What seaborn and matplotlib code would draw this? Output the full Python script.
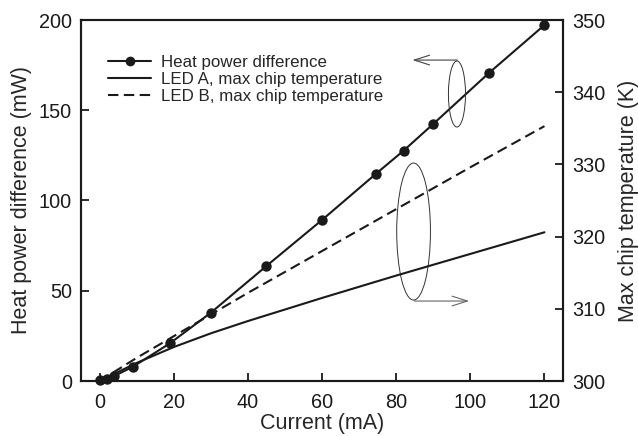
import numpy as np
import pandas as pd
import matplotlib
matplotlib.use("Agg")
import matplotlib.pyplot as plt
import seaborn as sns
from matplotlib.patches import Ellipse
from matplotlib.lines import Line2D

# ---- data ----
current_heat = [0, 2, 4, 9, 19, 30, 45, 60, 74.5, 82, 90, 105, 120]
heat_power = [0.5, 1.3, 2.8, 7.9, 20.9, 37.8, 63.7, 89.2, 114.7, 127.6, 142.4, 170.6, 197.2]

current_temp = [0, 10, 20, 30, 40, 60, 80, 100, 120]
temp_led_a = [300.0, 302.5, 304.7, 306.6, 308.3, 311.5, 314.6, 317.6, 320.6]
temp_led_b = [300.0, 303.2, 306.2, 309.2, 312.2, 318.0, 323.8, 329.6, 335.3]

x_ticks = [0, 20, 40, 60, 80, 100, 120]
y_left_ticks = [0, 50, 100, 150, 200]
y_right_ticks = [300, 310, 320, 330, 340, 350]

labels = ["Heat power difference", "LED A, max chip temperature", "LED B, max chip temperature"]

sns.set_theme(style="ticks")
plt.rcParams["font.family"] = ["Liberation Sans", "DejaVu Sans"]
plt.rcParams["axes.linewidth"] = 1.5
plt.rcParams["xtick.major.width"] = 1.3
plt.rcParams["ytick.major.width"] = 1.3

df_heat = pd.DataFrame({"current": current_heat, "power": heat_power})
df_temp = pd.DataFrame({"current": current_temp, "A": temp_led_a, "B": temp_led_b})

fig = plt.figure(figsize=(6.38, 4.36), dpi=100)
ax = fig.add_axes([81/638, 1-381/436, (563-81)/638, (381-20)/436])
ax2 = ax.twinx()

ink = "#1a1a1a"
dash = (0, (5, 2.6))
sns.lineplot(data=df_heat, x="current", y="power", ax=ax, color=ink, lw=1.5,
             marker="o", markersize=7.5, markeredgewidth=0, clip_on=False, zorder=5)
sns.lineplot(data=df_temp, x="current", y="A", ax=ax2, color=ink, lw=1.5)
sns.lineplot(data=df_temp, x="current", y="B", ax=ax2, color=ink, lw=1.5, linestyle=dash)

ax.set_xlim(-5, 125)
ax.set_ylim(0, 200)
ax2.set_ylim(300, 350)
ax.set_xticks(x_ticks)
ax.set_yticks(y_left_ticks)
ax2.set_yticks(y_right_ticks)

ax.set_xlabel("Current (mA)", fontsize=15.5, labelpad=1.0)
ax.set_ylabel("Heat power difference (mW)", fontsize=15.5, labelpad=5)
ax2.set_ylabel("Max chip temperature (K)", fontsize=15.5, labelpad=9)

for a in (ax, ax2):
    a.tick_params(direction="in", length=6, labelsize=14.3, colors=ink, pad=6.5)
    for s in a.spines.values():
        s.set_color(ink)
        s.set_linewidth(1.5)
ax.tick_params(axis="x", pad=8.5)

# annotations: ellipses with arrows
ax.add_patch(Ellipse((96.4, 159.0), 4.6, 36.6, fill=False, lw=0.7, ec="#333333", zorder=6))
ax.annotate("", xy=(84.4, 177.8), xytext=(96.5, 177.8),
            arrowprops=dict(arrowstyle="->,head_length=1.1,head_width=0.35", lw=0.8,
                            color="#444444", shrinkA=0, shrinkB=0, mutation_scale=10))
ax.add_patch(Ellipse((84.7, 82.8), 9.1, 75.9, fill=False, lw=0.7, ec="#333333", zorder=6))
ax.annotate("", xy=(99.7, 44.3), xytext=(84.9, 44.3),
            arrowprops=dict(arrowstyle="->,head_length=1.1,head_width=0.35", lw=0.8,
                            color="#666666", shrinkA=0, shrinkB=0, mutation_scale=10))

handles = [
    Line2D([], [], color=ink, lw=1.5, marker="o", markersize=7, markeredgewidth=0),
    Line2D([], [], color=ink, lw=1.5),
    Line2D([], [], color=ink, lw=1.5, linestyle=dash),
]
if ax2.get_legend():
    ax2.get_legend().remove()
ax.legend(handles, labels, loc="upper left", bbox_to_anchor=(0.057, 0.902),
          frameon=False, fontsize=12.2, handlelength=2.5, handletextpad=0.6,
          labelspacing=0.1, borderpad=0, borderaxespad=0)

fig.savefig("out.png", dpi=100)
